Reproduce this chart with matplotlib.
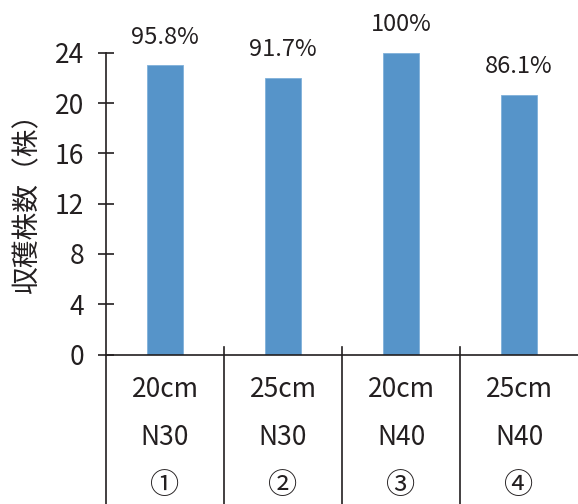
import matplotlib.pyplot as plt
import matplotlib.transforms as mtransforms
import numpy as np

plt.rcParams['font.family'] = ['Noto Sans CJK JP', 'DejaVu Sans']

spacing = ['20cm', '25cm', '20cm', '25cm']
nitrogen = ['N30', 'N30', 'N40', 'N40']
plot_no = ['①', '②', '③', '④']
harvest = [23, 22, 24, 20.67]
rate = ['95.8%', '91.7%', '100%', '86.1%']

bar_color = '#5694c9'
ink = '#231f20'

fig = plt.figure(figsize=(5.78, 5.04), dpi=100)
ax = fig.add_axes([0.1834, 0.2964, 0.8166, 0.599])

x = np.arange(len(harvest))
ax.bar(x, harvest, width=0.31, color=bar_color, edgecolor='#7fb0da', linewidth=0.6)

for xi, h, r in zip(x, harvest, rate):
    ax.annotate(r, (xi, h), xytext=(0, 12), textcoords='offset points',
                ha='center', va='bottom', fontsize=17, color=ink)

ax.set_xlim(-0.5, 3.5)
ax.set_ylim(0, 24)
ax.set_yticks(range(0, 25, 4))
ax.tick_params(axis='y', direction='inout', length=11.5, width=1.2, labelsize=19,
               colors=ink, pad=10)
ax.set_xticks([])
for s in ['top', 'right']:
    ax.spines[s].set_visible(False)
for s in ['left', 'bottom']:
    ax.spines[s].set_linewidth(1.2)
    ax.spines[s].set_color(ink)

# category table below the axis: separators and three rows of labels
trans = mtransforms.blended_transform_factory(ax.transData, ax.transAxes)
for b in [-0.5, 0.5, 1.5, 2.5]:
    top = 0.0 if b == -0.5 else 0.026
    ax.plot([b, b], [top, -0.5], transform=trans, color=ink, lw=1.2, clip_on=False)

for xi in x:
    ax.text(xi, -0.115, spacing[xi], transform=trans, ha='center', va='center',
            fontsize=19, color=ink)
    ax.text(xi, -0.275, nitrogen[xi], transform=trans, ha='center', va='center',
            fontsize=19, color=ink)
    ax.text(xi, -0.435, plot_no[xi], transform=trans, ha='center', va='center',
            fontsize=21, color=ink)

fig.text(0.047, 0.61, '収穫株数（株）', rotation=90, ha='center', va='center',
         fontsize=20, color=ink)

fig.savefig('out.png', dpi=100)
